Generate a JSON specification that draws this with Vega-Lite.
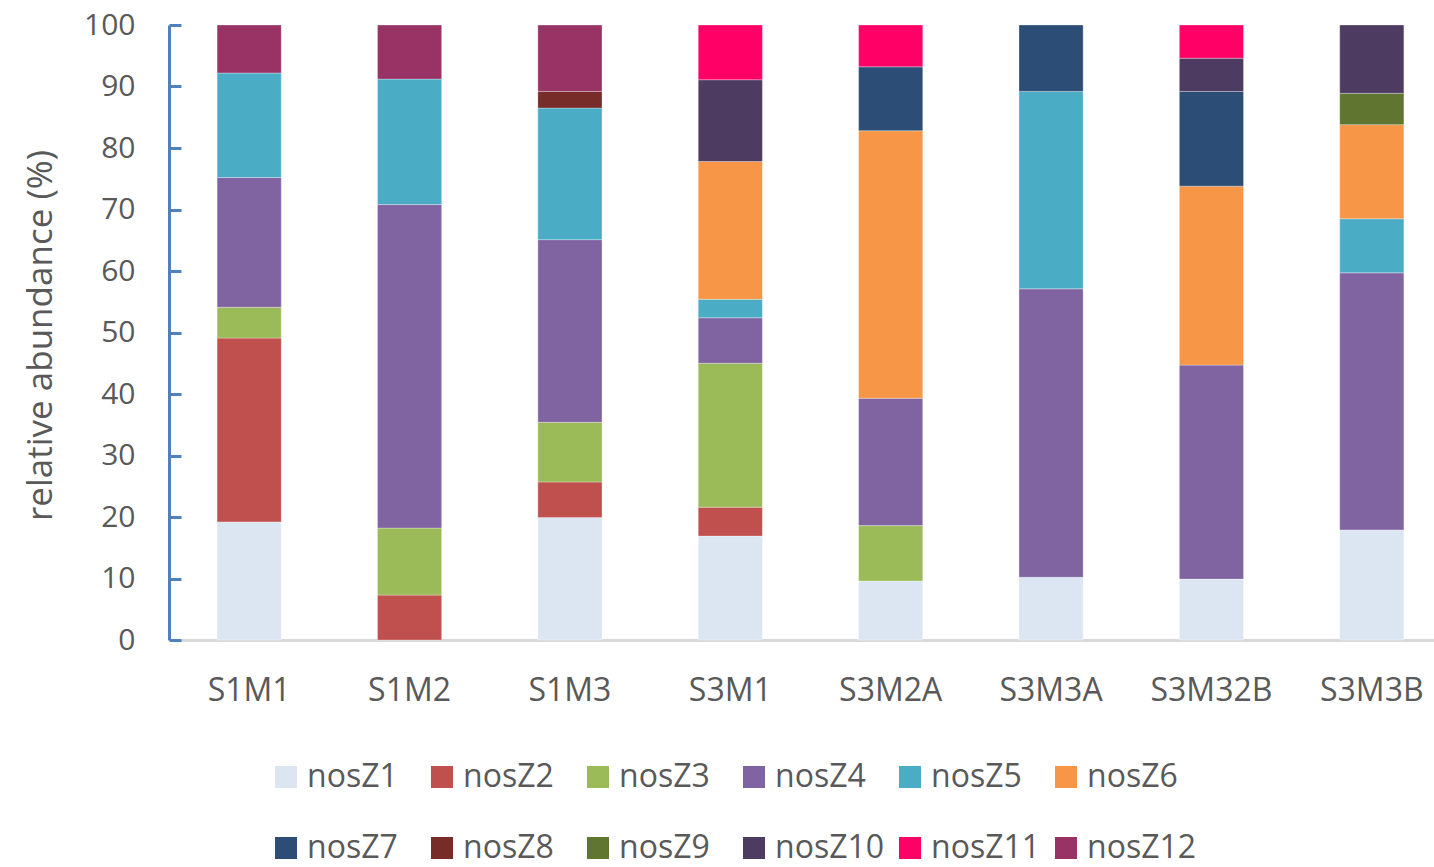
{
  "$schema": "https://vega.github.io/schema/vega-lite/v6.json",
  "autosize": "none",
  "width": 1283,
  "height": 615,
  "padding": {"left": 169, "top": 25, "right": 0, "bottom": 227},
  "background": "white",
  "config": {"view": {"stroke": null}, "font": "Open Sans"},
  "data": {"values": [
    {"sample": "S1M1", "gene": "nosZ1", "n": 1, "value": 19.2},
    {"sample": "S1M1", "gene": "nosZ2", "n": 2, "value": 29.9},
    {"sample": "S1M1", "gene": "nosZ3", "n": 3, "value": 5.0},
    {"sample": "S1M1", "gene": "nosZ4", "n": 4, "value": 21.1},
    {"sample": "S1M1", "gene": "nosZ5", "n": 5, "value": 17.0},
    {"sample": "S1M1", "gene": "nosZ12", "n": 12, "value": 7.8},
    {"sample": "S1M2", "gene": "nosZ2", "n": 2, "value": 7.3},
    {"sample": "S1M2", "gene": "nosZ3", "n": 3, "value": 10.9},
    {"sample": "S1M2", "gene": "nosZ4", "n": 4, "value": 52.6},
    {"sample": "S1M2", "gene": "nosZ5", "n": 5, "value": 20.4},
    {"sample": "S1M2", "gene": "nosZ12", "n": 12, "value": 8.8},
    {"sample": "S1M3", "gene": "nosZ1", "n": 1, "value": 19.9},
    {"sample": "S1M3", "gene": "nosZ2", "n": 2, "value": 5.8},
    {"sample": "S1M3", "gene": "nosZ3", "n": 3, "value": 9.7},
    {"sample": "S1M3", "gene": "nosZ4", "n": 4, "value": 29.7},
    {"sample": "S1M3", "gene": "nosZ5", "n": 5, "value": 21.4},
    {"sample": "S1M3", "gene": "nosZ8", "n": 8, "value": 2.7},
    {"sample": "S1M3", "gene": "nosZ12", "n": 12, "value": 10.8},
    {"sample": "S3M1", "gene": "nosZ1", "n": 1, "value": 16.9},
    {"sample": "S3M1", "gene": "nosZ2", "n": 2, "value": 4.7},
    {"sample": "S3M1", "gene": "nosZ3", "n": 3, "value": 23.4},
    {"sample": "S3M1", "gene": "nosZ4", "n": 4, "value": 7.4},
    {"sample": "S3M1", "gene": "nosZ5", "n": 5, "value": 3.0},
    {"sample": "S3M1", "gene": "nosZ6", "n": 6, "value": 22.4},
    {"sample": "S3M1", "gene": "nosZ10", "n": 10, "value": 13.3},
    {"sample": "S3M1", "gene": "nosZ11", "n": 11, "value": 8.9},
    {"sample": "S3M2A", "gene": "nosZ1", "n": 1, "value": 9.6},
    {"sample": "S3M2A", "gene": "nosZ3", "n": 3, "value": 9.0},
    {"sample": "S3M2A", "gene": "nosZ4", "n": 4, "value": 20.7},
    {"sample": "S3M2A", "gene": "nosZ6", "n": 6, "value": 43.5},
    {"sample": "S3M2A", "gene": "nosZ7", "n": 7, "value": 10.4},
    {"sample": "S3M2A", "gene": "nosZ11", "n": 11, "value": 6.8},
    {"sample": "S3M3A", "gene": "nosZ1", "n": 1, "value": 10.2},
    {"sample": "S3M3A", "gene": "nosZ4", "n": 4, "value": 46.9},
    {"sample": "S3M3A", "gene": "nosZ5", "n": 5, "value": 32.1},
    {"sample": "S3M3A", "gene": "nosZ7", "n": 7, "value": 10.8},
    {"sample": "S3M32B", "gene": "nosZ1", "n": 1, "value": 9.9},
    {"sample": "S3M32B", "gene": "nosZ4", "n": 4, "value": 34.8},
    {"sample": "S3M32B", "gene": "nosZ6", "n": 6, "value": 29.1},
    {"sample": "S3M32B", "gene": "nosZ7", "n": 7, "value": 15.4},
    {"sample": "S3M32B", "gene": "nosZ10", "n": 10, "value": 5.4},
    {"sample": "S3M32B", "gene": "nosZ11", "n": 11, "value": 5.4},
    {"sample": "S3M3B", "gene": "nosZ1", "n": 1, "value": 17.9},
    {"sample": "S3M3B", "gene": "nosZ4", "n": 4, "value": 41.8},
    {"sample": "S3M3B", "gene": "nosZ5", "n": 5, "value": 8.8},
    {"sample": "S3M3B", "gene": "nosZ6", "n": 6, "value": 15.3},
    {"sample": "S3M3B", "gene": "nosZ9", "n": 9, "value": 5.1},
    {"sample": "S3M3B", "gene": "nosZ10", "n": 10, "value": 11.1}
  ]},
  "mark": {"type": "bar", "stroke": "white", "strokeWidth": 0.5, "strokeOpacity": 0.6},
  "encoding": {
    "x": {
      "field": "sample", "type": "nominal",
      "sort": ["S1M1", "S1M2", "S1M3", "S3M1", "S3M2A", "S3M3A", "S3M32B", "S3M3B"],
      "scale": {"paddingInner": 0.6, "paddingOuter": 0.3},
      "axis": {
        "title": null, "labelAngle": 0, "ticks": false, "domainColor": "#d9d9d9", "domainWidth": 3,
        "labelFontSize": 32, "labelColor": "#595959", "labelPadding": 35, "labelFont": "Open Sans"
      }
    },
    "y": {
      "field": "value", "type": "quantitative", "stack": "zero",
      "scale": {"domain": [0, 100], "nice": false},
      "axis": {
        "title": "relative abundance (%)", "values": [0, 10, 20, 30, 40, 50, 60, 70, 80, 90, 100],
        "grid": false, "domainColor": "#4f81bd", "domainWidth": 3, "tickColor": "#4f81bd", "tickWidth": 3,
        "tickSize": -12, "labelFontSize": 30, "labelColor": "#595959", "labelPadding": 46,
        "titleFontSize": 35, "titleFontWeight": "normal", "titleColor": "#595959",
        "titleX": -129, "titleY": 310, "titleBaseline": "middle", "titleAlign": "center"
      }
    },
    "color": {
      "field": "gene", "type": "nominal",
      "scale": {
        "domain": ["nosZ1", "nosZ2", "nosZ3", "nosZ4", "nosZ5", "nosZ6", "nosZ7", "nosZ8", "nosZ9", "nosZ10", "nosZ11", "nosZ12"],
        "range": ["#dce6f2", "#c0504d", "#9bbb59", "#8064a2", "#4bacc6", "#f79646", "#2c4d75", "#772c2a", "#5f7530", "#4d3b62", "#ff0066", "#993366"]
      },
      "legend": {
        "title": null, "orient": "none", "legendX": 101, "legendY": 736, "direction": "horizontal",
        "values": ["nosZ1", "nosZ2", "nosZ3", "nosZ4", "nosZ5", "nosZ6", "nosZ7", "nosZ8", "nosZ9", "nosZ10", "nosZ11", "nosZ12"],
        "columns": 6, "gridAlign": "all", "symbolType": "square", "symbolSize": 484, "symbolStrokeWidth": 0,
        "labelFontSize": 32, "labelColor": "#595959", "labelFont": "Open Sans", "labelOffset": 5,
        "columnPadding": 9, "rowPadding": 39, "labelLimit": 300
      }
    },
    "order": {"field": "n", "type": "quantitative", "sort": "ascending"}
  }
}
